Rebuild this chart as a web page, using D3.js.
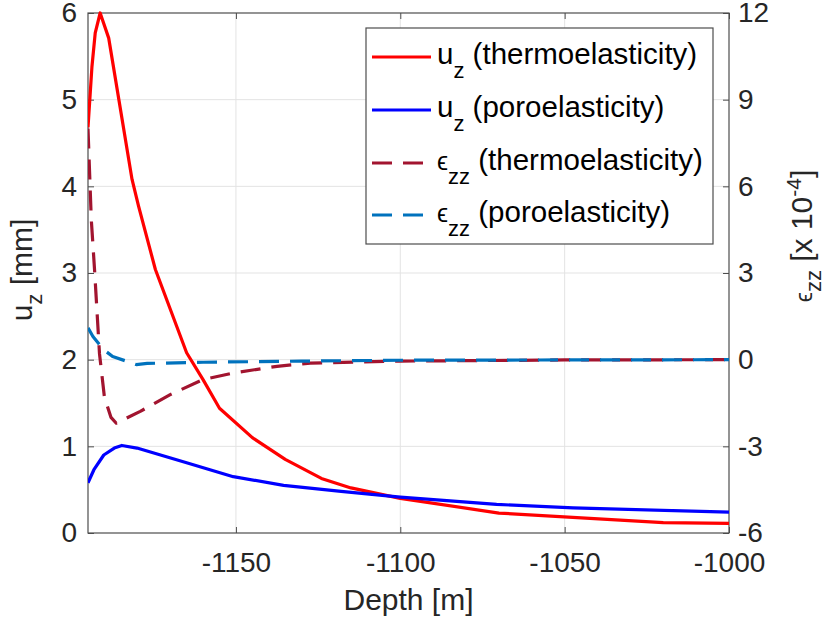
<!DOCTYPE html>
<html>
<head>
<meta charset="utf-8">
<script src="https://cdn.jsdelivr.net/npm/d3@7/dist/d3.min.js"></script>
<style>
  html, body { margin: 0; padding: 0; background: #fff; }
  svg { display: block; font-family: "Liberation Sans", Arial, Helvetica, sans-serif; }
</style>
</head>
<body>
<svg id="chart" width="834" height="621"></svg>
<script>
// Vertical displacement u_z [mm] (left axis)
const uzThermoDepth = [-1195, -1193.8, -1192.8, -1191.3, -1188.7, -1181.6, -1179.6, -1174.5, -1165, -1160, -1155, -1145, -1135, -1124, -1115, -1100, -1070, -1020, -1000];
const uzThermo      = [4.68, 5.38, 5.77, 6.0, 5.71, 4.08, 3.77, 3.04, 2.08, 1.77, 1.44, 1.10, 0.85, 0.63, 0.52, 0.40, 0.23, 0.12, 0.11];

const uzPoroDepth = [-1195, -1193.2, -1190.2, -1187, -1184.7, -1180.1, -1165, -1150.8, -1135.5, -1118, -1100, -1070.7, -1047.4, -1000];
const uzPoro      = [0.58, 0.73, 0.90, 0.98, 1.01, 0.98, 0.81, 0.65, 0.55, 0.48, 0.415, 0.33, 0.29, 0.24];

// Vertical strain eps_zz [x 1e-4] (right axis)
const ezzThermoDepth = [-1195, -1194, -1193, -1191.5, -1190, -1188, -1186.4, -1179.1, -1170, -1160, -1150.8, -1137.5, -1127.4, -1100, -1050, -1000];
const ezzThermo      = [8.0, 4.85, 3.1, 0.2, -1.3, -2.0, -2.2, -1.79, -1.21, -0.69, -0.46, -0.23, -0.12, -0.05, -0.01, 0];

const ezzPoroDepth = [-1195, -1193.5, -1190.3, -1187.5, -1180.3, -1177, -1160, -1130, -1100, -1000];
const ezzPoro      = [1.1, 0.8, 0.35, 0.11, -0.17, -0.13, -0.09, -0.05, -0.02, 0];

const xTicks      = [-1150, -1100, -1050, -1000];
const yLeftTicks  = [0, 1, 2, 3, 4, 5, 6];
const yRightTicks = [-6, -3, 0, 3, 6, 9, 12];

const legendItems = [
  { sym: "u", sub: "z", rest: " (thermoelasticity)", color: "#ff0000", dash: null },
  { sym: "u", sub: "z", rest: " (poroelasticity)", color: "#0000ff", dash: null },
  { sym: "\u03F5", sub: "zz", rest: " (thermoelasticity)", color: "#a2142f", dash: "20,11" },
  { sym: "\u03F5", sub: "zz", rest: " (poroelasticity)", color: "#0072bd", dash: "20,11" }
];

const svg = d3.select("#chart");
const L = 88, R = 729, T = 13, B = 533;

const x = d3.scaleLinear().domain([-1195, -1000]).range([L, R]);
const yL = d3.scaleLinear().domain([0, 6]).range([B, T]);
const yR = d3.scaleLinear().domain([-6, 12]).range([B, T]);

const axisColor = "#4d4d4d";
const tickFont = 28;
const labelFont = 30;
const legendFont = 29.5;

// grid
const grid = svg.append("g");
grid.selectAll("line.gx").data(xTicks.filter(d => d > -1195 && d < -1000)).join("line")
  .attr("x1", d => x(d)).attr("x2", d => x(d)).attr("y1", T).attr("y2", B)
  .attr("stroke", "#e3e3e3").attr("stroke-width", 1);
grid.selectAll("line.gy").data(yLeftTicks.filter(d => d > 0 && d < 6)).join("line")
  .attr("x1", L).attr("x2", R).attr("y1", d => yL(d)).attr("y2", d => yL(d))
  .attr("stroke", "#e3e3e3").attr("stroke-width", 1);

// axes
function styleAxis(g) {
  g.select(".domain").remove();
  g.selectAll(".tick line").attr("stroke", axisColor);
  g.selectAll(".tick text").attr("fill", "#262626").attr("font-size", tickFont)
    .attr("font-family", "Liberation Sans, Arial, Helvetica, sans-serif");
}
const fmt = d => String(d);

svg.append("g").attr("transform", `translate(0,${B})`)
  .call(d3.axisBottom(x).tickValues(xTicks).tickFormat(fmt).tickSize(-6).tickPadding(19))
  .call(styleAxis);
svg.append("g").attr("transform", `translate(0,${T})`)
  .call(d3.axisTop(x).tickValues(xTicks).tickFormat("").tickSize(-6))
  .call(styleAxis);
svg.append("g").attr("transform", `translate(${L},0)`)
  .call(d3.axisLeft(yL).tickValues(yLeftTicks).tickFormat(fmt).tickSize(-6).tickPadding(11))
  .call(styleAxis);
svg.append("g").attr("transform", `translate(${R},0)`)
  .call(d3.axisRight(yR).tickValues(yRightTicks).tickFormat(fmt).tickSize(-6).tickPadding(9))
  .call(styleAxis);

// box
svg.append("rect").attr("x", L).attr("y", T).attr("width", R - L).attr("height", B - T)
  .attr("fill", "none").attr("stroke", axisColor).attr("stroke-width", 1.2);

// curves
svg.append("defs").append("clipPath").attr("id", "plotclip")
  .append("rect").attr("x", L).attr("y", T - 2).attr("width", R - L + 2).attr("height", B - T + 4);
const plot = svg.append("g").attr("clip-path", "url(#plotclip)");

function drawLine(depths, vals, yScale, color, dash) {
  const pts = depths.map((d, i) => [d, vals[i]]);
  const line = d3.line().x(p => x(p[0])).y(p => yScale(p[1]));
  plot.append("path").datum(pts).attr("d", line)
    .attr("fill", "none").attr("stroke", color).attr("stroke-width", 3.2)
    .attr("stroke-linejoin", "round")
    .attr("stroke-dasharray", dash);
}
drawLine(ezzThermoDepth, ezzThermo, yR, "#a2142f", "20,11");
drawLine(ezzPoroDepth, ezzPoro, yR, "#0072bd", "20,11");
drawLine(uzThermoDepth, uzThermo, yL, "#ff0000", null);
drawLine(uzPoroDepth, uzPoro, yL, "#0000ff", null);

// axis labels
svg.append("text").attr("x", (L + R) / 2).attr("y", 610).attr("text-anchor", "middle")
  .attr("font-size", labelFont).attr("fill", "#262626").text("Depth [m]");

const yl = svg.append("text").attr("transform", `translate(32,270) rotate(-90)`)
  .attr("text-anchor", "middle").attr("font-size", labelFont).attr("fill", "#262626");
yl.append("tspan").text("u");
yl.append("tspan").attr("font-size", 22).attr("dy", 10).text("z");
yl.append("tspan").attr("dy", -10).text(" [mm]");

const yr = svg.append("text").attr("transform", `translate(812,236) rotate(-90)`)
  .attr("text-anchor", "middle").attr("font-size", labelFont).attr("fill", "#262626");
yr.append("tspan").attr("font-size", 23).text("\u03F5");
yr.append("tspan").attr("font-size", 22).attr("dy", 9).text("zz");
yr.append("tspan").attr("dy", -9).text(" [x 10");
yr.append("tspan").attr("font-size", 21).attr("dy", -11).text("-4");
yr.append("tspan").attr("dy", 11).text("]");

// legend
const lg = svg.append("g");
lg.append("rect").attr("x", 366).attr("y", 28).attr("width", 347).attr("height", 216)
  .attr("fill", "#fff").attr("stroke", axisColor).attr("stroke-width", 1.2);
const rowY = [57, 110, 163, 215];
legendItems.forEach((it, i) => {
  const yy = rowY[i];
  lg.append("line").attr("x1", 372).attr("x2", 431).attr("y1", yy).attr("y2", yy)
    .attr("stroke", it.color).attr("stroke-width", 3.2).attr("stroke-dasharray", it.dash);
  const t = lg.append("text").attr("x", 437).attr("y", yy + 7).attr("font-size", legendFont).attr("fill", "#000");
  t.append("tspan").attr("font-size", it.sym === "u" ? legendFont : 25).text(it.sym);
  t.append("tspan").attr("font-size", 22).attr("dy", 14).text(it.sub);
  t.append("tspan").attr("dy", -14).text(it.rest);
});
</script>
</body>
</html>
